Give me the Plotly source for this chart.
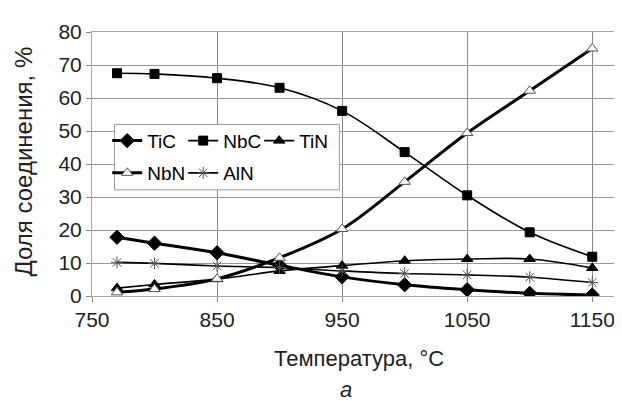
import plotly.graph_objects as go

temps = [770, 800, 850, 900, 950, 1000, 1050, 1100, 1150]
tic = [17.8, 16.0, 13.1, 9.3, 5.8, 3.4, 1.9, 0.8, 0.3]
nbc = [67.5, 67.3, 66.0, 63.1, 56.1, 43.6, 30.5, 19.3, 11.9]
tin = [2.4, 3.5, 5.1, 7.6, 9.2, 10.7, 11.2, 11.2, 8.5]
nbn = [1.1, 2.1, 5.2, 11.6, 20.3, 34.6, 49.4, 62.2, 75.0]
aln = [10.2, 9.9, 9.1, 8.6, 7.6, 6.8, 6.4, 5.7, 4.1]
xticks = [750, 850, 950, 1050, 1150]
yticks = [0, 10, 20, 30, 40, 50, 60, 70, 80]

FONT = "Liberation Sans, Arial, sans-serif"

fig = go.Figure()

def add(name, y, width, symbol, msize, mcolor, mline_color, legend):
    fig.add_trace(go.Scatter(
        x=temps, y=y, name=name, mode="lines+markers",
        line=dict(color="black", width=width, shape="spline", smoothing=1.0),
        marker=dict(symbol=symbol, size=msize, color=mcolor,
                    line=dict(color=mline_color, width=1)),
        legend=legend,
    ))

add("TiC", tic, 3, "diamond", 11, "black", "black", "legend")
add("NbC", nbc, 1.6, "square", 9, "black", "black", "legend")
add("TiN", tin, 1.6, "triangle-up", 10, "black", "black", "legend")
add("NbN", nbn, 3, "triangle-up", 10, "white", "#555555", "legend2")
add("AlN", aln, 1.6, "asterisk-open", 10, "#555555", "#555555", "legend2")

W, H = 622, 401
ml, mr, mt, mb = 84, 14, 17, 113

legend_common = dict(
    orientation="h", xanchor="left", yanchor="middle",
    font=dict(family=FONT, size=19, color="black"),
    bgcolor="rgba(0,0,0,0)", borderwidth=0,
    entrywidth=31, entrywidthmode="pixels", itemwidth=30,
    tracegroupgap=0,
)

fig.update_layout(
    width=W, height=H,
    margin=dict(l=ml, r=mr, t=mt, b=mb, pad=0),
    paper_bgcolor="white", plot_bgcolor="white",
    font=dict(family=FONT, size=21, color="#222222"),
    showlegend=True,
    legend=dict(x=0.029, y=0.588, **legend_common),
    legend2=dict(x=0.029, y=0.466, **legend_common),
    xaxis=dict(
        range=[750, 1169], tickvals=xticks, ticktext=[str(v) for v in xticks],
        showgrid=True, gridcolor="#888888", gridwidth=1,
        showline=True, linecolor="#aaaaaa", linewidth=1, mirror=True,
        ticks="outside", ticklen=5, tickcolor="#888888",
        tickfont=dict(family=FONT, size=21, color="#222222"),
        zeroline=False,
    ),
    yaxis=dict(
        range=[0, 80], tickvals=yticks,
        showgrid=True, gridcolor="#999999", gridwidth=1,
        showline=True, linecolor="#aaaaaa", linewidth=1, mirror=True,
        ticks="outside", ticklen=5, tickcolor="#888888",
        tickfont=dict(family=FONT, size=21, color="#222222"),
        zeroline=False,
    ),
    shapes=[dict(
        type="rect", xref="paper", yref="paper",
        x0=0.043, x1=0.472, y0=0.402, y1=0.650,
        line=dict(color="#999999", width=1), fillcolor="white", layer="above",
    )],
    annotations=[
        dict(text="Температура, °C", xref="paper", yref="paper",
             x=0.51, y=-0.235, xanchor="center", yanchor="middle",
             showarrow=False, font=dict(family=FONT, size=22, color="#222222")),
        dict(text="<i>а</i>", xref="paper", yref="paper",
             x=0.485, y=-0.355, xanchor="center", yanchor="middle",
             showarrow=False, font=dict(family=FONT, size=22, color="#222222")),
        dict(text="Доля соединения, %", xref="paper", yref="paper",
             x=-0.13, y=0.509, xanchor="center", yanchor="middle", textangle=-90,
             showarrow=False, font=dict(family=FONT, size=24, color="#222222")),
    ],
)

fig.write_html("out.html")
